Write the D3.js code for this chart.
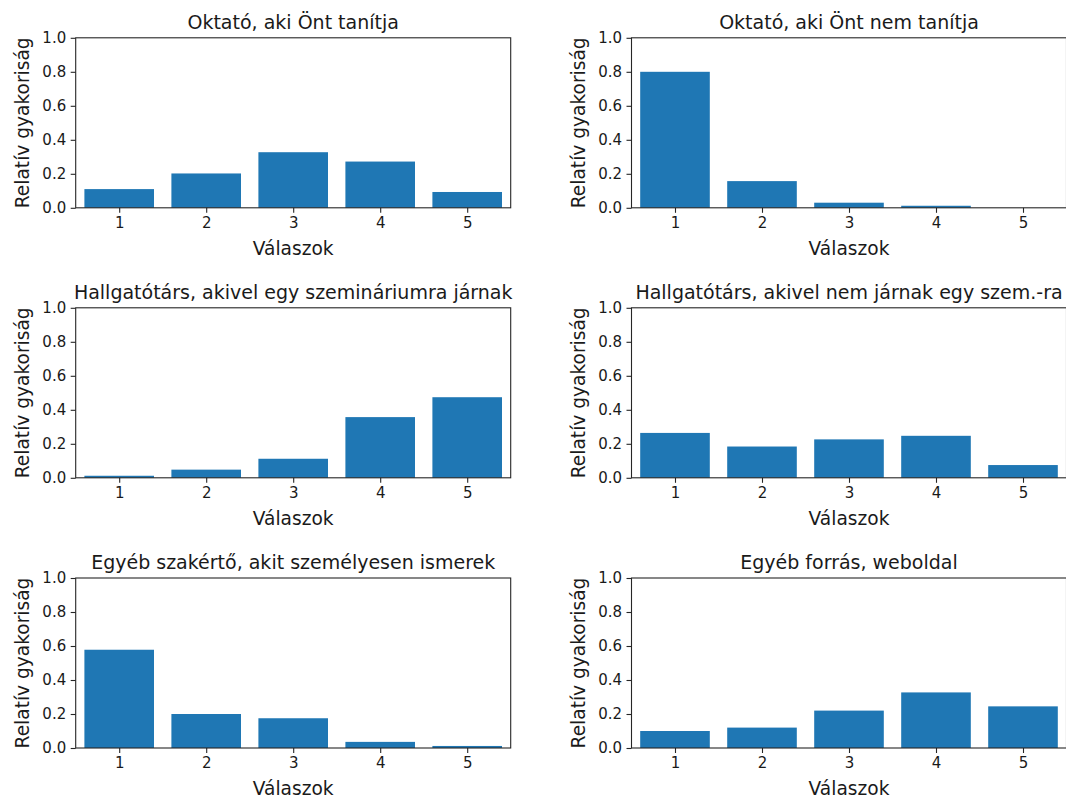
<!DOCTYPE html>
<html>
<head>
<meta charset="utf-8">
<script src="https://cdn.jsdelivr.net/npm/d3@7"></script>
<style>
  html, body { margin: 0; padding: 0; background: #fff; }
  svg { display: block; font-family: "DejaVu Sans", sans-serif; }
</style>
</head>
<body>
<svg id="chart" width="1066" height="801"></svg>
<script>
// Answer categories (1–5 scale) and tick labels
const answers = [1, 2, 3, 4, 5];
const yTicks = [0, 0.2, 0.4, 0.6, 0.8, 1.0];

// Panel titles, in grid order (row by row)
const titles = [
  "Oktató, aki Önt tanítja",
  "Oktató, aki Önt nem tanítja",
  "Hallgatótárs, akivel egy szemináriumra járnak",
  "Hallgatótárs, akivel nem járnak egy szem.-ra",
  "Egyéb szakértő, akit személyesen ismerek",
  "Egyéb forrás, weboldal"
];

// Relative frequencies of each answer, one array per panel
const oktatoTanit      = [0.110, 0.202, 0.327, 0.272, 0.093];
const oktatoNemTanit   = [0.800, 0.157, 0.030, 0.012, 0.000];
const tarsEgySzem      = [0.012, 0.048, 0.112, 0.357, 0.474];
const tarsNemEgySzem   = [0.264, 0.184, 0.226, 0.247, 0.075];
const szakerto         = [0.578, 0.200, 0.175, 0.036, 0.012];
const weboldal         = [0.100, 0.120, 0.220, 0.327, 0.245];

const series = [oktatoTanit, oktatoNemTanit, tarsEgySzem, tarsNemEgySzem, szakerto, weboldal];

const xLabel = "Válaszok";
const yLabel = "Relatív gyakoriság";

// Layout of the 3x2 grid of axes
const colLeft = [75.7, 631.5];
const plotW = 435;
const rowTop = [37.8, 307.8, 578];
const plotH = 170;

const barColor = "#1f77b4";
const inkColor = "#1a1a1a";
const lineColor = "#262626";

const svg = d3.select("#chart");

series.forEach((vals, i) => {
  const col = i % 2, row = Math.floor(i / 2);
  const g = svg.append("g")
    .attr("transform", `translate(${colLeft[col]},${rowTop[row]})`);

  const x = d3.scaleLinear().domain([0.5, 5.5]).range([0, plotW]);
  const y = d3.scaleLinear().domain([0, 1]).range([plotH, 0]);

  // bars (width 0.8 in data units)
  g.selectAll("rect.bar")
    .data(answers.map((a, k) => ({a, v: vals[k]})))
    .join("rect")
    .attr("class", "bar")
    .attr("x", d => x(d.a - 0.4))
    .attr("width", d => x(d.a + 0.4) - x(d.a - 0.4))
    .attr("y", d => y(d.v))
    .attr("height", d => y(0) - y(d.v))
    .attr("fill", barColor);

  // axes
  const xAxis = g.append("g")
    .attr("transform", `translate(0,${plotH})`)
    .call(d3.axisBottom(x).tickValues(answers).tickFormat(d3.format("d"))
      .tickSize(5).tickPadding(4.5).tickSizeOuter(0));
  const yAxis = g.append("g")
    .call(d3.axisLeft(y).tickValues(yTicks).tickFormat(d3.format(".1f"))
      .tickSize(5).tickPadding(4.5).tickSizeOuter(0));

  [xAxis, yAxis].forEach(ax => {
    ax.select(".domain").remove();
    ax.selectAll(".tick line").attr("stroke", lineColor).attr("stroke-width", 1.1);
    ax.selectAll(".tick text")
      .attr("fill", inkColor)
      .style("font-size", "15px")
      .style("font-family", "DejaVu Sans");
  });

  // frame (all four spines)
  g.append("rect")
    .attr("x", 0).attr("y", 0)
    .attr("width", plotW).attr("height", plotH)
    .attr("fill", "none")
    .attr("stroke", lineColor)
    .attr("stroke-width", 1.1);

  // title
  g.append("text")
    .attr("x", plotW / 2).attr("y", -9)
    .attr("text-anchor", "middle")
    .attr("fill", inkColor)
    .style("font-size", "19px")
    .text(titles[i]);

  // x label
  g.append("text")
    .attr("x", plotW / 2).attr("y", plotH + 47)
    .attr("text-anchor", "middle")
    .attr("fill", inkColor)
    .style("font-size", "18.6px")
    .text(xLabel);

  // y label
  g.append("text")
    .attr("transform", `translate(-47,${plotH / 2}) rotate(-90)`)
    .attr("text-anchor", "middle")
    .attr("fill", inkColor)
    .style("font-size", "18.6px")
    .text(yLabel);
});
</script>
</body>
</html>
